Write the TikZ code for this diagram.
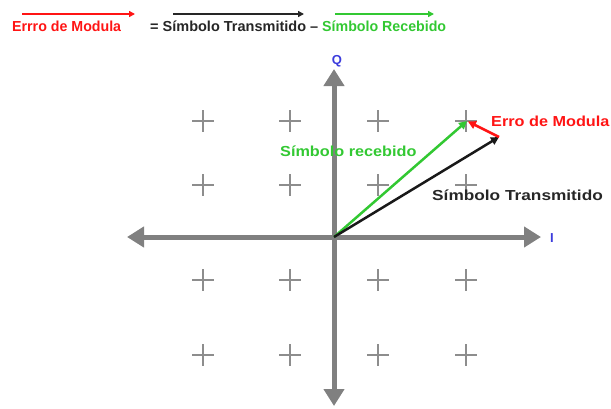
\documentclass[tikz,border=0pt]{standalone}
\usepackage{fontspec}
\usepackage{graphicx}
\setmainfont{Liberation Sans}
\usetikzlibrary{arrows.meta}
\definecolor{axgray}{RGB}{128,128,128}
\definecolor{myred}{RGB}{255,20,20}
\definecolor{mygreen}{RGB}{50,200,50}
\definecolor{myblue}{RGB}{60,60,220}
\tikzset{
  lbl/.style={font=\fontsize{14.5}{17}\selectfont\bfseries, inner sep=0pt, anchor=west},
  axis/.style={draw=axgray, line width=5pt, {Triangle[length=17pt,width=20pt]}-{Triangle[length=17pt,width=20pt]}},
  plusmark/.style={draw=axgray!90, line width=2.5pt},
  vec/.style={line width=2.5pt, -{Triangle[length=8pt,width=8pt]}},
  hdr/.style={line width=2pt, -{Triangle[length=6pt,width=6pt]}}
}
\begin{document}
\begin{tikzpicture}[x=1pt,y=-1pt]
\useasboundingbox (0,0) rectangle (611,408);
% header
\node[lbl, text=myred] (h1) at (12,26) {\scalebox{0.98}[1]{Errro de Modula}};
\node[lbl, text=black!85] (h2) at (150,26) {= Símbolo Transmitido –};
\node[lbl, text=mygreen] (h3) at (322,26) {\scalebox{0.98}[1]{Símbolo Recebido}};
\coordinate (a1s) at (22,14); \coordinate (a1e) at (135,14);
\coordinate (a2s) at (173,14); \coordinate (a2e) at (304,14);
\coordinate (a3s) at (335,14); \coordinate (a3e) at (434,14);
\draw[hdr, myred] (a1s) -- (a1e);
\draw[hdr, black!85] (a2s) -- (a2e);
\draw[hdr, mygreen] (a3s) -- (a3e);
% axes
\coordinate (O) at (334,237);
\coordinate (xl) at (127,237); \coordinate (xr) at (541,237);
\coordinate (yt) at (334,69); \coordinate (yb) at (334,406);
\draw[axis] (xl) -- (xr);
\draw[axis] (yb) -- (yt);
\node[text=myblue, font=\fontsize{13}{15}\selectfont\bfseries] (Q) at (337,61) {Q};
\node[text=myblue, font=\fontsize{13}{15}\selectfont\bfseries] (I) at (552,238) {I};
% constellation
\foreach \x in {203,290,378,466}
  \foreach \y in {121,185,280,355}
    \draw[plusmark] (\x-11,\y) -- (\x+11,\y) (\x,\y-11) -- (\x,\y+11);
% vectors
\coordinate (R) at (467,121);
\coordinate (T) at (499,137);
\draw[vec, mygreen] (O) -- (R);
\draw[vec, black!90] (O) -- (T);
\draw[vec, myred, shorten >=1pt] (T) -- (R);
\node[lbl, text=mygreen] (lr) at (280,151) {\scalebox{1.12}[1]{Símbolo recebido}};
\node[lbl, text=myred] (le) at (491,121) {\scalebox{1.12}[1]{Erro de Modula}};
\node[lbl, text=black!85] (lt) at (432,195) {\scalebox{1.19}[1]{Símbolo Transmitido}};
\end{tikzpicture}
\end{document}
